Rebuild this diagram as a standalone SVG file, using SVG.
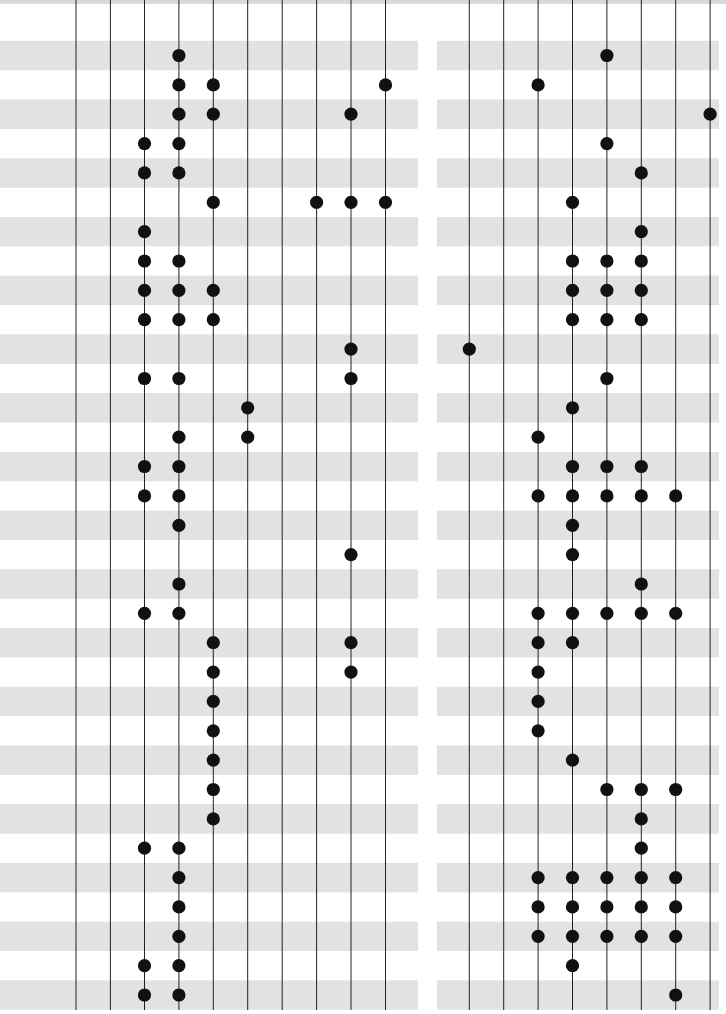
<svg xmlns="http://www.w3.org/2000/svg" width="726" height="1014" viewBox="0 0 726 1014">
<style>
.bg{fill:#ffffff}
.band{fill:#d7d8d8}
.stripe{fill:#e1e2e2}
.vline{stroke:#222;stroke-width:1;fill:none}
.dot{fill:#111}
</style>
<rect class="bg" x="0" y="0" width="726" height="1014"/>
<rect class="band" x="0" y="0" width="726" height="3.8"/>
<g id="stripes-left">
<rect class="stripe" x="0" y="40.8" width="418" height="29.4"/>
<rect class="stripe" x="0" y="99.5" width="418" height="29.4"/>
<rect class="stripe" x="0" y="158.3" width="418" height="29.4"/>
<rect class="stripe" x="0" y="217.0" width="418" height="29.4"/>
<rect class="stripe" x="0" y="275.7" width="418" height="29.4"/>
<rect class="stripe" x="0" y="334.4" width="418" height="29.4"/>
<rect class="stripe" x="0" y="393.1" width="418" height="29.4"/>
<rect class="stripe" x="0" y="451.9" width="418" height="29.4"/>
<rect class="stripe" x="0" y="510.6" width="418" height="29.4"/>
<rect class="stripe" x="0" y="569.3" width="418" height="29.4"/>
<rect class="stripe" x="0" y="628.0" width="418" height="29.4"/>
<rect class="stripe" x="0" y="686.7" width="418" height="29.4"/>
<rect class="stripe" x="0" y="745.5" width="418" height="29.4"/>
<rect class="stripe" x="0" y="804.2" width="418" height="29.4"/>
<rect class="stripe" x="0" y="862.9" width="418" height="29.4"/>
<rect class="stripe" x="0" y="921.6" width="418" height="29.4"/>
<rect class="stripe" x="0" y="980.3" width="418" height="29.4"/>
</g>
<g id="stripes-right">
<rect class="stripe" x="437" y="40.8" width="282" height="29.4"/>
<rect class="stripe" x="437" y="99.5" width="282" height="29.4"/>
<rect class="stripe" x="437" y="158.3" width="282" height="29.4"/>
<rect class="stripe" x="437" y="217.0" width="282" height="29.4"/>
<rect class="stripe" x="437" y="275.7" width="282" height="29.4"/>
<rect class="stripe" x="437" y="334.4" width="282" height="29.4"/>
<rect class="stripe" x="437" y="393.1" width="282" height="29.4"/>
<rect class="stripe" x="437" y="451.9" width="282" height="29.4"/>
<rect class="stripe" x="437" y="510.6" width="282" height="29.4"/>
<rect class="stripe" x="437" y="569.3" width="282" height="29.4"/>
<rect class="stripe" x="437" y="628.0" width="282" height="29.4"/>
<rect class="stripe" x="437" y="686.7" width="282" height="29.4"/>
<rect class="stripe" x="437" y="745.5" width="282" height="29.4"/>
<rect class="stripe" x="437" y="804.2" width="282" height="29.4"/>
<rect class="stripe" x="437" y="862.9" width="282" height="29.4"/>
<rect class="stripe" x="437" y="921.6" width="282" height="29.4"/>
<rect class="stripe" x="437" y="980.3" width="282" height="29.4"/>
</g>
<g id="connectors">
<line class="vline" x1="76" y1="0" x2="76" y2="1010"/>
<line class="vline" x1="110.4" y1="0" x2="110.4" y2="1010"/>
<line class="vline" x1="144.5" y1="0" x2="144.5" y2="1010"/>
<line class="vline" x1="178.9" y1="0" x2="178.9" y2="1010"/>
<line class="vline" x1="213.3" y1="0" x2="213.3" y2="1010"/>
<line class="vline" x1="247.7" y1="0" x2="247.7" y2="1010"/>
<line class="vline" x1="282.2" y1="0" x2="282.2" y2="1010"/>
<line class="vline" x1="316.6" y1="0" x2="316.6" y2="1010"/>
<line class="vline" x1="351" y1="0" x2="351" y2="1010"/>
<line class="vline" x1="385.5" y1="0" x2="385.5" y2="1010"/>
<line class="vline" x1="469.3" y1="0" x2="469.3" y2="1010"/>
<line class="vline" x1="503.7" y1="0" x2="503.7" y2="1010"/>
<line class="vline" x1="538.1" y1="0" x2="538.1" y2="1010"/>
<line class="vline" x1="572.5" y1="0" x2="572.5" y2="1010"/>
<line class="vline" x1="606.9" y1="0" x2="606.9" y2="1010"/>
<line class="vline" x1="641.3" y1="0" x2="641.3" y2="1010"/>
<line class="vline" x1="675.7" y1="0" x2="675.7" y2="1010"/>
<line class="vline" x1="710.1" y1="0" x2="710.1" y2="1010"/>
</g>
<g id="dots-left">
<g id="r0-l"><circle class="dot" cx="178.9" cy="55.5" r="6.6"/></g>
<g id="r1-l"><circle class="dot" cx="178.9" cy="84.9" r="6.6"/><circle class="dot" cx="213.3" cy="84.9" r="6.6"/><circle class="dot" cx="385.5" cy="84.9" r="6.6"/></g>
<g id="r2-l"><circle class="dot" cx="178.9" cy="114.2" r="6.6"/><circle class="dot" cx="213.3" cy="114.2" r="6.6"/><circle class="dot" cx="351" cy="114.2" r="6.6"/></g>
<g id="r3-l"><circle class="dot" cx="144.5" cy="143.6" r="6.6"/><circle class="dot" cx="178.9" cy="143.6" r="6.6"/></g>
<g id="r4-l"><circle class="dot" cx="144.5" cy="172.9" r="6.6"/><circle class="dot" cx="178.9" cy="172.9" r="6.6"/></g>
<g id="r5-l"><circle class="dot" cx="213.3" cy="202.3" r="6.6"/><circle class="dot" cx="316.6" cy="202.3" r="6.6"/><circle class="dot" cx="351" cy="202.3" r="6.6"/><circle class="dot" cx="385.5" cy="202.3" r="6.6"/></g>
<g id="r6-l"><circle class="dot" cx="144.5" cy="231.7" r="6.6"/></g>
<g id="r7-l"><circle class="dot" cx="144.5" cy="261.0" r="6.6"/><circle class="dot" cx="178.9" cy="261.0" r="6.6"/></g>
<g id="r8-l"><circle class="dot" cx="144.5" cy="290.4" r="6.6"/><circle class="dot" cx="178.9" cy="290.4" r="6.6"/><circle class="dot" cx="213.3" cy="290.4" r="6.6"/></g>
<g id="r9-l"><circle class="dot" cx="144.5" cy="319.7" r="6.6"/><circle class="dot" cx="178.9" cy="319.7" r="6.6"/><circle class="dot" cx="213.3" cy="319.7" r="6.6"/></g>
<g id="r10-l"><circle class="dot" cx="351" cy="349.1" r="6.6"/></g>
<g id="r11-l"><circle class="dot" cx="144.5" cy="378.5" r="6.6"/><circle class="dot" cx="178.9" cy="378.5" r="6.6"/><circle class="dot" cx="351" cy="378.5" r="6.6"/></g>
<g id="r12-l"><circle class="dot" cx="247.7" cy="407.8" r="6.6"/></g>
<g id="r13-l"><circle class="dot" cx="178.9" cy="437.2" r="6.6"/><circle class="dot" cx="247.7" cy="437.2" r="6.6"/></g>
<g id="r14-l"><circle class="dot" cx="144.5" cy="466.5" r="6.6"/><circle class="dot" cx="178.9" cy="466.5" r="6.6"/></g>
<g id="r15-l"><circle class="dot" cx="144.5" cy="495.9" r="6.6"/><circle class="dot" cx="178.9" cy="495.9" r="6.6"/></g>
<g id="r16-l"><circle class="dot" cx="178.9" cy="525.3" r="6.6"/></g>
<g id="r17-l"><circle class="dot" cx="351" cy="554.6" r="6.6"/></g>
<g id="r18-l"><circle class="dot" cx="178.9" cy="584.0" r="6.6"/></g>
<g id="r19-l"><circle class="dot" cx="144.5" cy="613.3" r="6.6"/><circle class="dot" cx="178.9" cy="613.3" r="6.6"/></g>
<g id="r20-l"><circle class="dot" cx="213.3" cy="642.7" r="6.6"/><circle class="dot" cx="351" cy="642.7" r="6.6"/></g>
<g id="r21-l"><circle class="dot" cx="213.3" cy="672.1" r="6.6"/><circle class="dot" cx="351" cy="672.1" r="6.6"/></g>
<g id="r22-l"><circle class="dot" cx="213.3" cy="701.4" r="6.6"/></g>
<g id="r23-l"><circle class="dot" cx="213.3" cy="730.8" r="6.6"/></g>
<g id="r24-l"><circle class="dot" cx="213.3" cy="760.1" r="6.6"/></g>
<g id="r25-l"><circle class="dot" cx="213.3" cy="789.5" r="6.6"/></g>
<g id="r26-l"><circle class="dot" cx="213.3" cy="818.9" r="6.6"/></g>
<g id="r27-l"><circle class="dot" cx="144.5" cy="848.2" r="6.6"/><circle class="dot" cx="178.9" cy="848.2" r="6.6"/></g>
<g id="r28-l"><circle class="dot" cx="178.9" cy="877.6" r="6.6"/></g>
<g id="r29-l"><circle class="dot" cx="178.9" cy="906.9" r="6.6"/></g>
<g id="r30-l"><circle class="dot" cx="178.9" cy="936.3" r="6.6"/></g>
<g id="r31-l"><circle class="dot" cx="144.5" cy="965.7" r="6.6"/><circle class="dot" cx="178.9" cy="965.7" r="6.6"/></g>
<g id="r32-l"><circle class="dot" cx="144.5" cy="995.0" r="6.6"/><circle class="dot" cx="178.9" cy="995.0" r="6.6"/></g>
</g>
<g id="dots-right">
<g id="r0-r"><circle class="dot" cx="606.9" cy="55.5" r="6.6"/></g>
<g id="r1-r"><circle class="dot" cx="538.1" cy="84.9" r="6.6"/></g>
<g id="r2-r"><circle class="dot" cx="710.1" cy="114.2" r="6.6"/></g>
<g id="r3-r"><circle class="dot" cx="606.9" cy="143.6" r="6.6"/></g>
<g id="r4-r"><circle class="dot" cx="641.3" cy="172.9" r="6.6"/></g>
<g id="r5-r"><circle class="dot" cx="572.5" cy="202.3" r="6.6"/></g>
<g id="r6-r"><circle class="dot" cx="641.3" cy="231.7" r="6.6"/></g>
<g id="r7-r"><circle class="dot" cx="572.5" cy="261.0" r="6.6"/><circle class="dot" cx="606.9" cy="261.0" r="6.6"/><circle class="dot" cx="641.3" cy="261.0" r="6.6"/></g>
<g id="r8-r"><circle class="dot" cx="572.5" cy="290.4" r="6.6"/><circle class="dot" cx="606.9" cy="290.4" r="6.6"/><circle class="dot" cx="641.3" cy="290.4" r="6.6"/></g>
<g id="r9-r"><circle class="dot" cx="572.5" cy="319.7" r="6.6"/><circle class="dot" cx="606.9" cy="319.7" r="6.6"/><circle class="dot" cx="641.3" cy="319.7" r="6.6"/></g>
<g id="r10-r"><circle class="dot" cx="469.3" cy="349.1" r="6.6"/></g>
<g id="r11-r"><circle class="dot" cx="606.9" cy="378.5" r="6.6"/></g>
<g id="r12-r"><circle class="dot" cx="572.5" cy="407.8" r="6.6"/></g>
<g id="r13-r"><circle class="dot" cx="538.1" cy="437.2" r="6.6"/></g>
<g id="r14-r"><circle class="dot" cx="572.5" cy="466.5" r="6.6"/><circle class="dot" cx="606.9" cy="466.5" r="6.6"/><circle class="dot" cx="641.3" cy="466.5" r="6.6"/></g>
<g id="r15-r"><circle class="dot" cx="538.1" cy="495.9" r="6.6"/><circle class="dot" cx="572.5" cy="495.9" r="6.6"/><circle class="dot" cx="606.9" cy="495.9" r="6.6"/><circle class="dot" cx="641.3" cy="495.9" r="6.6"/><circle class="dot" cx="675.7" cy="495.9" r="6.6"/></g>
<g id="r16-r"><circle class="dot" cx="572.5" cy="525.3" r="6.6"/></g>
<g id="r17-r"><circle class="dot" cx="572.5" cy="554.6" r="6.6"/></g>
<g id="r18-r"><circle class="dot" cx="641.3" cy="584.0" r="6.6"/></g>
<g id="r19-r"><circle class="dot" cx="538.1" cy="613.3" r="6.6"/><circle class="dot" cx="572.5" cy="613.3" r="6.6"/><circle class="dot" cx="606.9" cy="613.3" r="6.6"/><circle class="dot" cx="641.3" cy="613.3" r="6.6"/><circle class="dot" cx="675.7" cy="613.3" r="6.6"/></g>
<g id="r20-r"><circle class="dot" cx="538.1" cy="642.7" r="6.6"/><circle class="dot" cx="572.5" cy="642.7" r="6.6"/></g>
<g id="r21-r"><circle class="dot" cx="538.1" cy="672.1" r="6.6"/></g>
<g id="r22-r"><circle class="dot" cx="538.1" cy="701.4" r="6.6"/></g>
<g id="r23-r"><circle class="dot" cx="538.1" cy="730.8" r="6.6"/></g>
<g id="r24-r"><circle class="dot" cx="572.5" cy="760.1" r="6.6"/></g>
<g id="r25-r"><circle class="dot" cx="606.9" cy="789.5" r="6.6"/><circle class="dot" cx="641.3" cy="789.5" r="6.6"/><circle class="dot" cx="675.7" cy="789.5" r="6.6"/></g>
<g id="r26-r"><circle class="dot" cx="641.3" cy="818.9" r="6.6"/></g>
<g id="r27-r"><circle class="dot" cx="641.3" cy="848.2" r="6.6"/></g>
<g id="r28-r"><circle class="dot" cx="538.1" cy="877.6" r="6.6"/><circle class="dot" cx="572.5" cy="877.6" r="6.6"/><circle class="dot" cx="606.9" cy="877.6" r="6.6"/><circle class="dot" cx="641.3" cy="877.6" r="6.6"/><circle class="dot" cx="675.7" cy="877.6" r="6.6"/></g>
<g id="r29-r"><circle class="dot" cx="538.1" cy="906.9" r="6.6"/><circle class="dot" cx="572.5" cy="906.9" r="6.6"/><circle class="dot" cx="606.9" cy="906.9" r="6.6"/><circle class="dot" cx="641.3" cy="906.9" r="6.6"/><circle class="dot" cx="675.7" cy="906.9" r="6.6"/></g>
<g id="r30-r"><circle class="dot" cx="538.1" cy="936.3" r="6.6"/><circle class="dot" cx="572.5" cy="936.3" r="6.6"/><circle class="dot" cx="606.9" cy="936.3" r="6.6"/><circle class="dot" cx="641.3" cy="936.3" r="6.6"/><circle class="dot" cx="675.7" cy="936.3" r="6.6"/></g>
<g id="r31-r"><circle class="dot" cx="572.5" cy="965.7" r="6.6"/></g>
<g id="r32-r"><circle class="dot" cx="675.7" cy="995.0" r="6.6"/></g>
</g>
</svg>
